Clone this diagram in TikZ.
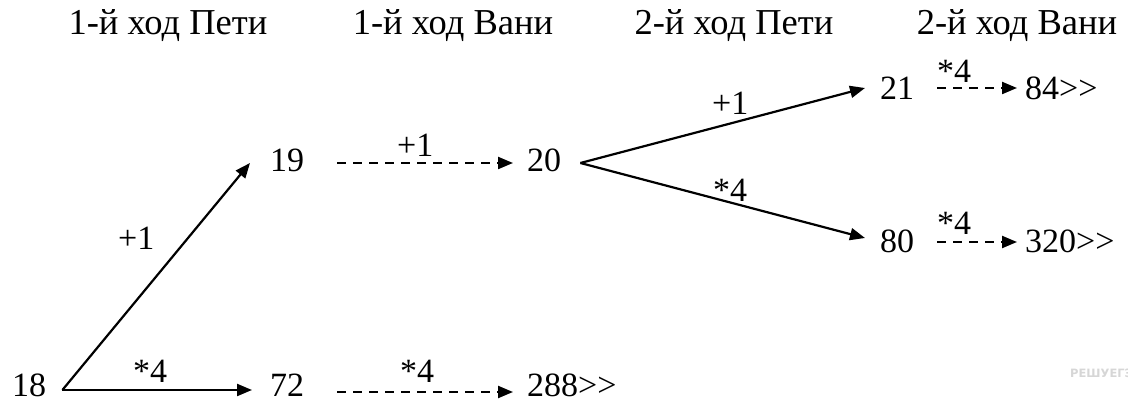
\documentclass[tikz,border=0pt]{standalone}
\usepackage{fontspec}
\setmainfont{Liberation Serif}[Ligatures=NoCommon]
\newfontfamily\wmfont{DejaVu Sans}
\usetikzlibrary{arrows.meta,calc}
\begin{document}
\begin{tikzpicture}[x=1pt,y=-1pt,
  num/.style={inner sep=0pt, anchor=base west, font=\fontsize{34}{40}\selectfont},
  hdr/.style={inner sep=0pt, anchor=base, font=\fontsize{36.5}{40}\selectfont},
  lbl/.style={inner sep=0pt, anchor=base west, font=\fontsize{34}{40}\selectfont},
  arr/.style={line width=2.2pt, -{Triangle[length=15pt,width=12pt]}},
  darr/.style={arr, dash pattern=on 9pt off 7pt}]
\useasboundingbox (0,0) rectangle (1128,403);
% headers
\node[hdr] (h1) at (168,35) {1-й ход Пети};
\node[hdr] (h2) at (453,35) {1-й ход Вани};
\node[hdr] (h3) at (734,35) {2-й ход Пети};
\node[hdr] (h4) at (1017,35) {2-й ход Вани};
% numbers
\node[num] (n18) at (12,397) {18};
\node[num] (n72) at (270,397) {72};
\node[num] (n288) at (527,397) {288>{}>};
\node[num] (n19) at (270,172) {19};
\node[num] (n20) at (527,172) {20};
\node[num] (n21) at (880,100) {21};
\node[num] (n84) at (1025,100) {84>{}>};
\node[num] (n80) at (880,253) {80};
\node[num] (n320) at (1025,253) {320>{}>};
% connectors
\draw[arr] ($(n18.base east)+(16,-7)$) -- ($(n19.base west)+(-20,-9)$);
\draw[arr] ($(n18.base east)+(16,-7)$) -- ($(n72.base west)+(-18,-7)$);
\draw[darr] ($(n19.base east)+(33,-9)$) -- ($(n20.base west)+(-14,-9)$);
\draw[darr] ($(n72.base east)+(33,-5)$) -- ($(n288.base west)+(-14,-5)$);
\draw[arr] ($(n20.base east)+(19,-9)$) -- ($(n21.base west)+(-15,-12)$);
\draw[arr] ($(n20.base east)+(19,-9)$) -- ($(n80.base west)+(-15,-15)$);
\draw[darr] ($(n21.base east)+(23,-12)$) -- ($(n84.base west)+(-8,-12)$);
\draw[darr] ($(n80.base east)+(23,-11)$) -- ($(n320.base west)+(-8,-11)$);
% labels
\node[lbl] (l1) at (118,250) {+1};
\node[lbl] (l2) at (133,383) {*4};
\node[lbl] (l3) at (397,157) {+1};
\node[lbl] (l4) at (400,383) {*4};
\node[lbl] (l5) at (712,115) {+1};
\node[lbl] (l6) at (713,202) {*4};
\node[lbl] (l7) at (937,83) {*4};
\node[lbl] (l8) at (937,235) {*4};
% watermark
\node[inner sep=0pt, anchor=base west, text=black!16, font=\wmfont\bfseries\fontsize{11.5}{13}\selectfont] (wm) at (1070,378) {РЕШУЕГЭ};
\end{tikzpicture}
\end{document}
